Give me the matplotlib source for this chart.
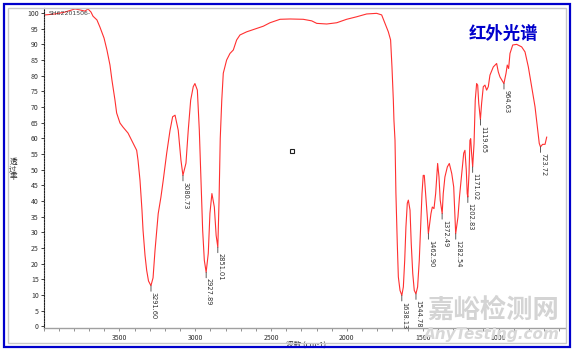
import numpy as np
import matplotlib
matplotlib.use('Agg')
import matplotlib.pyplot as plt
from matplotlib.patches import Rectangle
from matplotlib.ticker import MultipleLocator

plt.rcParams['font.family'] = ['Noto Sans CJK SC', 'DejaVu Sans']

# spectrum: wavenumber (cm-1) and transmittance (%)
wavenumber = [
    3990, 3924, 3859, 3793, 3760, 3727, 3707, 3687, 3674, 3648, 3628, 3601,
    3582, 3562, 3549, 3529, 3518, 3496, 3476, 3443, 3410, 3386, 3377, 3364,
    3351, 3344, 3331, 3320, 3308, 3292, 3278, 3265, 3244, 3226, 3211, 3188,
    3166, 3149, 3133, 3112, 3094, 3081, 3061, 3046, 3030, 3013, 3002, 2986,
    2973, 2962, 2951, 2940, 2928, 2914, 2903, 2890, 2874, 2862, 2851, 2843,
    2835, 2825, 2815, 2793, 2771, 2749, 2727, 2705, 2661, 2595, 2551, 2507,
    2441, 2375, 2288, 2232, 2199, 2133, 2067, 2002, 1936, 1870, 1804, 1771,
    1749, 1727, 1712, 1703, 1694, 1690, 1683, 1677, 1668, 1661, 1650, 1638,
    1628, 1619, 1611, 1602, 1595, 1584, 1576, 1566, 1556, 1545, 1534, 1523,
    1514, 1505, 1497, 1490, 1481, 1470, 1463, 1452, 1446, 1437, 1426, 1415,
    1408, 1402, 1393, 1385, 1372, 1365, 1354, 1338, 1325, 1309, 1296, 1290,
    1286, 1283, 1268, 1258, 1245, 1230, 1222, 1213, 1207, 1203, 1195, 1189,
    1184, 1178, 1171, 1162, 1154, 1145, 1138, 1131, 1120, 1112, 1101, 1090,
    1079, 1068, 1057, 1035, 1013, 1002, 991, 965, 951, 943, 934, 925,
    907, 881, 848, 826, 804, 782, 760, 745, 732, 724, 710, 694, 683,
]
transmittance = [
    99.4, 99.7, 100.3, 101.3, 101.0, 100.6, 101.3, 100.3, 99.0, 97.8, 95.5, 92.0,
    88.2, 83.4, 78.6, 72.2, 68.1, 64.9, 63.6, 61.7, 58.5, 56.2, 53.0, 46.6,
    37.1, 30.7, 22.7, 17.9, 14.5, 13.0, 15.5, 24.3, 36.0, 41.3, 46.6, 55.3,
    62.6, 66.9, 67.4, 62.6, 53.0, 48.2, 52.1, 62.6, 72.2, 76.5, 77.5, 75.4,
    62.6, 46.6, 30.7, 21.1, 17.3, 23.3, 36.1, 42.4, 38.1, 29.0, 25.3, 40.0,
    60.0, 72.2, 80.8, 85.0, 87.1, 88.2, 91.4, 93.0, 94.0, 95.1, 95.8, 96.9,
    98.0, 98.1, 98.0, 97.5, 96.7, 96.5, 96.9, 98.0, 98.8, 99.7, 99.9, 99.4,
    96.7, 94.0, 91.4, 82.8, 72.2, 65.8, 59.4, 42.5, 26.5, 15.8, 11.5, 9.9,
    12.6, 21.1, 31.7, 39.3, 40.3, 37.1, 26.5, 16.9, 11.5, 10.4, 12.6, 21.1,
    31.7, 42.4, 48.2, 48.2, 42.4, 34.9, 29.6, 33.9, 36.0, 38.1, 37.6, 42.4,
    47.7, 52.0, 47.7, 40.3, 36.0, 42.4, 47.7, 50.9, 52.0, 48.8, 44.5, 38.0,
    33.0, 29.6, 34.9, 41.3, 47.7, 55.3, 56.2, 49.8, 42.4, 41.3, 48.8, 59.4,
    59.9, 55.2, 50.9, 58.3, 72.2, 77.5, 77.0, 71.2, 66.0, 71.2, 76.5, 77.0,
    75.4, 76.5, 80.2, 82.8, 83.9, 81.2, 79.6, 77.5, 80.8, 83.4, 82.3, 87.1,
    89.8, 90.0, 89.2, 87.6, 82.8, 76.5, 70.1, 63.7, 58.4, 57.3, 58.1, 58.1, 60.4,
]

# labelled peaks
peak_wn = [3291.60, 3080.73, 2927.89, 2851.01, 1638.13, 1544.78, 1462.90,
           1372.49, 1282.54, 1202.83, 1171.02, 1119.65, 964.63, 723.72]
peak_t = [13.0, 48.2, 17.3, 25.3, 9.9, 10.4, 29.6,
          36.0, 29.6, 41.3, 50.9, 66.0, 77.5, 57.3]
peak_text = ['3291.60', '3080.73', '2927.89', '2851.01', '1638.13', '1544.78',
             '1462.90', '1372.49', '1282.54', '1202.83', '1171.02', '1119.65',
             '964.63', '723.72']

fig = plt.figure(figsize=(5.75, 3.53), dpi=100)
ax = fig.add_axes([0.0757, 0.0708, 0.907, 0.9065])

ax.plot(wavenumber, transmittance, color='#ff3030', lw=0.8)

for w, t, s in zip(peak_wn, peak_t, peak_text):
    ax.annotate('', xy=(w, t), xytext=(0, -4), textcoords='offset points',
                arrowprops=dict(arrowstyle='-', color='#404040', lw=0.6,
                                shrinkA=0, shrinkB=0))
    ax.annotate(s, xy=(w, t), xytext=(2, -4.5), textcoords='offset points',
                rotation=270, ha='center', va='top', fontsize=4.8,
                color='#303030', family='DejaVu Sans')

ax.set_xlim(4000, 562)
ax.set_ylim(-0.5, 101.6)
ax.xaxis.set_minor_locator(MultipleLocator(100))
ax.set_xticks([3500, 3000, 2500, 2000, 1500, 1000])
ax.set_yticks(range(0, 101, 5))
ax.tick_params(axis='x', which='both', length=2.5, width=0.6, color='#808080',
               labelsize=5, labelcolor='#303030', pad=2)
ax.tick_params(axis='y', length=2, width=0.6, color='#202020',
               labelsize=5, labelcolor='#303030', pad=1.5)
for s in ['top', 'right']:
    ax.spines[s].set_visible(False)
ax.spines['left'].set_linestyle((0, (1.2, 1.2)))
ax.spines['left'].set_color('#202020')
ax.spines['left'].set_linewidth(0.8)
ax.spines['bottom'].set_color('#a0a0a0')
ax.spines['bottom'].set_linewidth(1.0)

ax.set_xlabel('波数 (cm-1)', fontsize=5.5, color='#303030', labelpad=0)
ax.xaxis.set_label_coords(0.503, -0.038)
fig.text(0.0226, 0.52, '透\n过\n率', fontsize=5.5, color='#303030',
         ha='center', va='center', linespacing=1.0)

# cursor square in the middle of the plot
ax.plot([0.4765], [0.553], marker='s', ms=3.5, mfc='none', mec='#202020',
        mew=0.8, transform=ax.transAxes)

fig.text(0.084, 0.961, 'SH62201506-', fontsize=4.5, color='#404040',
         ha='left', va='center', family='DejaVu Sans')

fig.text(0.875, 0.905, '红外光谱', fontsize=12.5, color='#0000cc',
         fontweight='bold', ha='center', va='center')

# watermark
fig.text(0.857, 0.12, '嘉峪检测网', fontsize=19, color='#d4d4d4',
         fontweight='bold', ha='center', va='center', zorder=5)
fig.text(0.855, 0.052, 'AnyTesting.com', fontsize=11, color='#d8d8d8',
         style='italic', fontweight='bold', ha='center', va='center',
         family='DejaVu Sans', zorder=5)

# frames
fig.patches.append(Rectangle((0.0139, 0.0283), 0.970, 0.949, fill=False,
                             ec='#c8c8c8', lw=1.0, transform=fig.transFigure))
fig.patches.append(Rectangle((0.007, 0.017), 0.984, 0.972, fill=False,
                             ec='#0000cc', lw=1.6, transform=fig.transFigure))

fig.savefig('out.png', dpi=100)
